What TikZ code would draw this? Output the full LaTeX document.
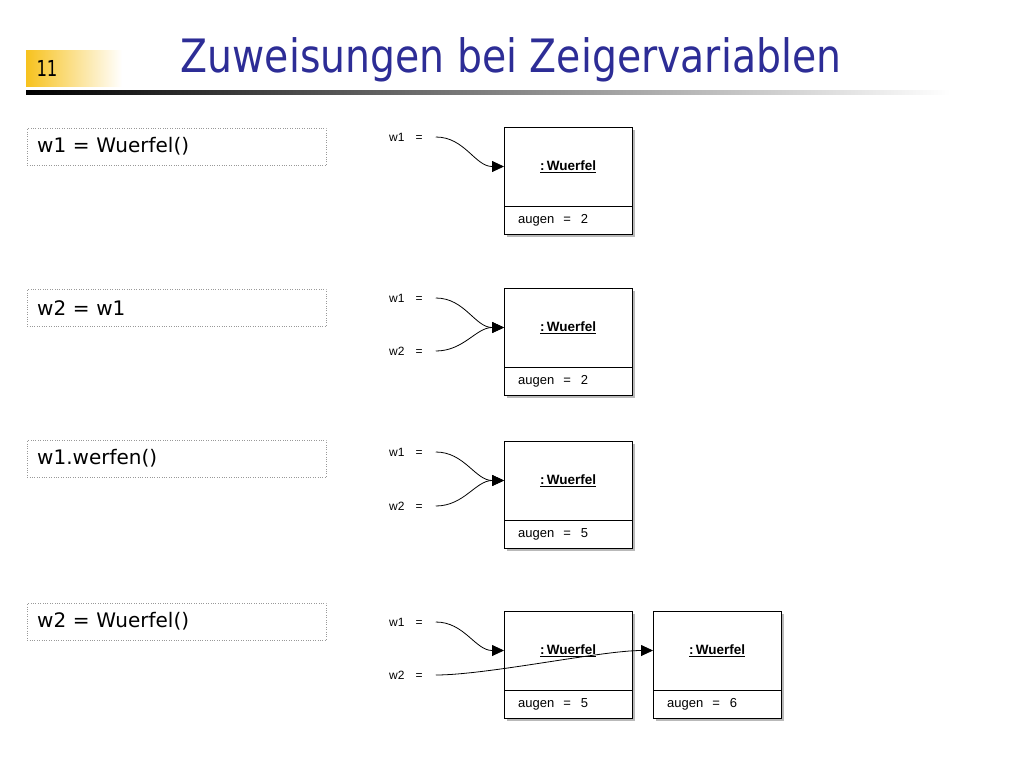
\documentclass[tikz,border=0pt]{standalone}
\usepackage{fontspec}
\setmainfont{DejaVu Sans}
\newfontfamily\umlfont{Liberation Sans}
\usetikzlibrary{arrows.meta,shadows,calc,positioning}
\definecolor{titelblau}{RGB}{45,45,150}
\definecolor{foliengelb}{RGB}{247,194,30}
\tikzset{
	code/.style={draw=gray!80, dotted, anchor=north west, minimum height=37pt, text width=279pt, inner xsep=10pt, align=left, font=\fontsize{20}{24}\selectfont},
	objekt/.style={draw, fill=white, anchor=north west, minimum width=128pt, minimum height=107pt, drop shadow={shadow xshift=3pt, shadow yshift=-3pt, fill=gray!55, opacity=1}},
	attr/.style={draw, anchor=south west, minimum width=128pt, minimum height=28pt, text width=100pt, inner xsep=14pt, align=left, font=\umlfont\fontsize{13}{15}\selectfont},
	klasse/.style={font=\umlfont\bfseries\fontsize{13.5}{15}\selectfont},
	var/.style={anchor=west, inner sep=0pt, font=\umlfont\fontsize{12}{14}\selectfont},
	zeiger/.style={-{Triangle[length=12pt,width=11pt]}, line width=0.8pt},
}
% objekt: name, x, y, augen
\newcommand\wobj[4]{
	\node[objekt] (#1) at (#2,#3) {};
	\node[attr] (#1a) at (#1.south west) {augen\hspace{9pt}=\hspace{10pt}#4};
	\node[klasse] (#1k) at ($(#1.north)!.5!(#1a.north)$) {\underline{:\,Wuerfel}};
}
\begin{document}
\begin{tikzpicture}[x=1pt,y=-1pt]
	\useasboundingbox (0,0) rectangle (1024,768);
	%kopf
	\shade[left color=foliengelb, right color=white] (26,51) rectangle (122,86);
	\node[font=\fontsize{22}{24}\selectfont] (nr) at (47,68) {\scalebox{0.75}[1]{11}};
	\node[text=titelblau, font=\fontsize{46}{52}\selectfont] (titel) at (511,60) {\scalebox{0.856}[1]{Zuweisungen bei Zeigervariablen}};
	\shade[left color=black, right color=white, middle color=gray] (26,90) rectangle (950,94);
	%code
	\node[code] (c1) at (27,128) {w1 = Wuerfel()};
	\node[code] (c2) at (27,289) {w2 = w1};
	\node[code] (c3) at (27,440) {w1.werfen()};
	\node[code] (c4) at (27,603) {w2 = Wuerfel()};
	%objekte
	\wobj{o1}{504}{127}{2}
	\wobj{o2}{504}{288}{2}
	\wobj{o3}{504}{441}{5}
	\wobj{o4}{504}{611}{5}
	\wobj{o5}{653}{611}{6}
	%variablen
	\node[var] (v1) at (389,137) {w1\hspace{11pt}=};
	\node[var] (v2a) at (389,298) {w1\hspace{11pt}=};
	\node[var] (v2b) at (389,351) {w2\hspace{11pt}=};
	\node[var] (v3a) at (389,452) {w1\hspace{11pt}=};
	\node[var] (v3b) at (389,506) {w2\hspace{11pt}=};
	\node[var] (v4a) at (389,622) {w1\hspace{11pt}=};
	\node[var] (v4b) at (389,675) {w2\hspace{11pt}=};
	%zeiger
	\draw[zeiger] ([xshift=13pt]v1.east) to[out=0, in=180] (o1k -| o1.west);
	\draw[zeiger] ([xshift=13pt]v2a.east) to[out=0, in=180] (o2k -| o2.west);
	\draw[zeiger] ([xshift=13pt]v2b.east) to[out=0, in=180] (o2k -| o2.west);
	\draw[zeiger] ([xshift=13pt]v3a.east) to[out=0, in=180] (o3k -| o3.west);
	\draw[zeiger] ([xshift=13pt]v3b.east) to[out=0, in=180] (o3k -| o3.west);
	\draw[zeiger] ([xshift=13pt]v4a.east) to[out=0, in=180] (o4k -| o4.west);
	\draw[zeiger] ([xshift=13pt]v4b.east) to[out=0, in=180, looseness=0.6] (o5k -| o5.west);
\end{tikzpicture}
\end{document}
